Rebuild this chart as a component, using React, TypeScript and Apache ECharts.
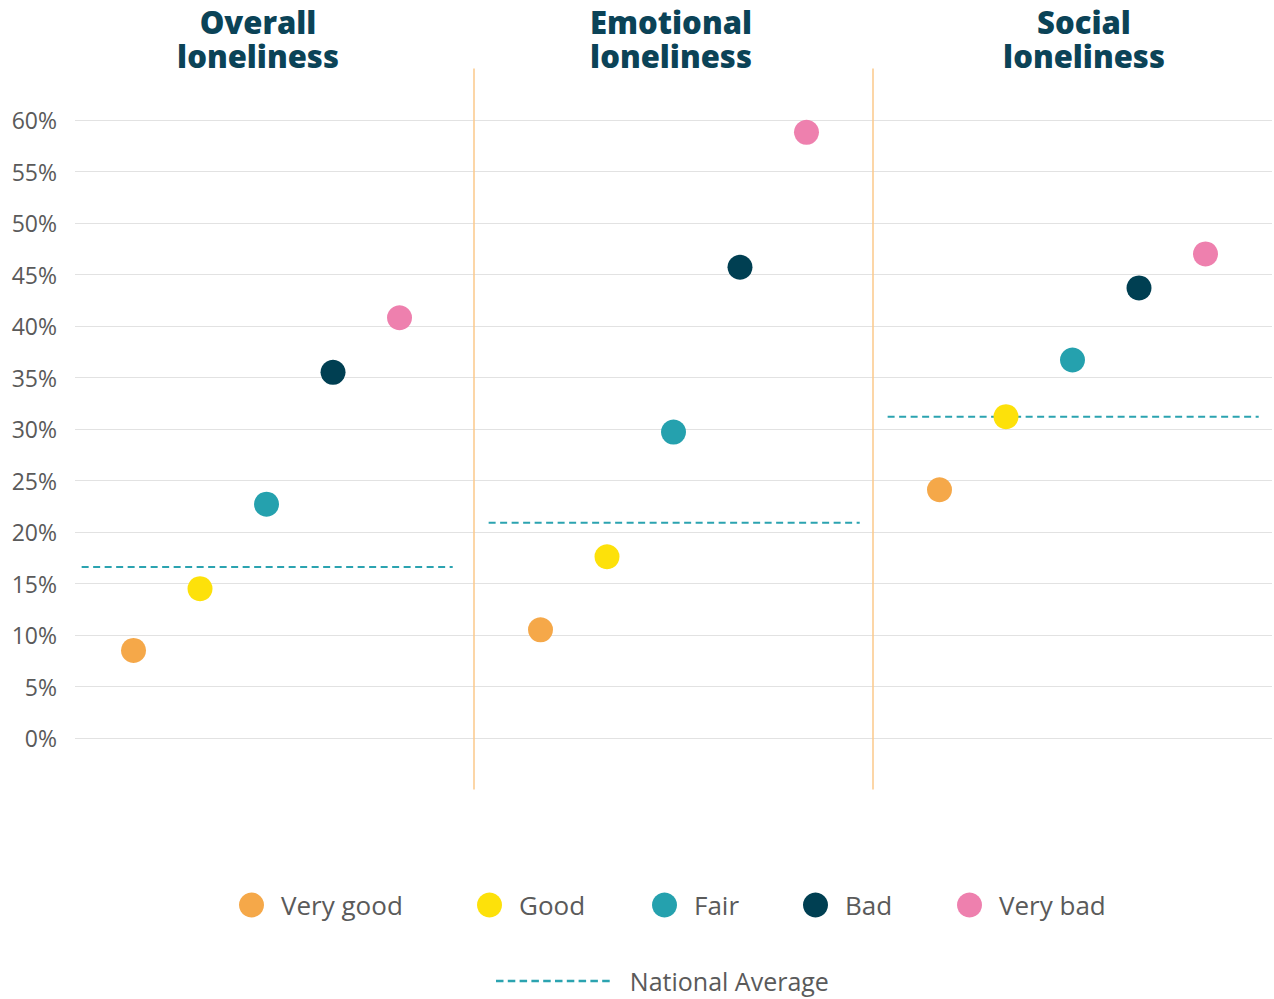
import React, { useEffect, useRef } from "react";
import * as echarts from "echarts";

// Loneliness by self-rated health, three loneliness measures
const PANELS = ["Overall\nloneliness", "Emotional\nloneliness", "Social\nloneliness"];
const RATINGS = ["Very good", "Good", "Fair", "Bad", "Very bad"];

// Share (%) per panel: overall, emotional, social
const veryGood = [8.5, 10.5, 24.1];
const good = [14.5, 17.6, 31.2];
const fair = [22.7, 29.7, 36.7];
const bad = [35.5, 45.7, 43.7];
const veryBad = [40.8, 58.8, 47.0];
const nationalAverage = [16.6, 20.9, 31.2];

const Y_MIN = 0;
const Y_MAX = 60;
const Y_STEP = 5;

const RATING_VALUES = [veryGood, good, fair, bad, veryBad];
const RATING_COLORS = ["#f5a849", "#fde10a", "#25a1ae", "#003f52", "#ee80ae"];
const AVG_NAME = "National Average";
const AVG_COLOR = "#2ba3b0";

// each panel spans 6 units on the shared x scale
const PANEL_WIDTH = 6;
const panelOrigin = [-0.12, 6, 12];
const TITLE_X = [258, 671, 1084];
const LEGEND_X = [239, 477, 652, 803, 957];

const FONT = "'Open Sans', 'Noto Sans', sans-serif";

// dashed-line legend icon: ten short dashes
const DASH = 7.5;
const DASH_PERIOD = 11.8;
const DASH_H = 2.5;
const dashIcon =
  "path://" +
  Array.from({ length: 10 }, (_, k) => `M${(k * DASH_PERIOD).toFixed(1)},0h${DASH}v${DASH_H}h-${DASH}z`).join("");

export default function App() {
  const ref = useRef<HTMLDivElement>(null);

  useEffect(() => {
    if (!ref.current) return;
    const chart = echarts.init(ref.current, null, { renderer: "svg" });

    const avgData: any[] = [];
    nationalAverage.forEach((v, p) => {
      if (p > 0) avgData.push(["-", "-"]);
      avgData.push([panelOrigin[p] + 0.22, v]);
      avgData.push([panelOrigin[p] + 5.8, v]);
    });

    const scatterSeries = RATINGS.map((name, i) => ({
      name,
      type: "scatter",
      symbol: "circle",
      symbolSize: 25,
      itemStyle: { color: RATING_COLORS[i], opacity: 1 },
      z: 3,
      data: RATING_VALUES[i].map((v, p) => [panelOrigin[p] + i + 1, v]),
    }));

    const legendText = {
      fontFamily: FONT,
      fontSize: 26,
      color: "#5a5a5a",
      lineHeight: 30,
    };

    const ratingLegends = RATINGS.map((name, i) => ({
      data: [name],
      left: LEGEND_X[i],
      top: 890,
      padding: 0,
      icon: "circle",
      itemWidth: 25,
      itemHeight: 25,
      textStyle: { ...legendText, padding: [0, 0, 0, 12] },
    }));

    chart.setOption({
      animation: false,
      backgroundColor: "#ffffff",
      title: PANELS.map((text, p) => ({
        text,
        left: TITLE_X[p],
        top: 5,
        padding: 0,
        textAlign: "center",
        textStyle: {
          fontFamily: FONT,
          fontSize: 31,
          fontWeight: 800,
          lineHeight: 34,
          color: "#0b4357",
        },
      })),
      grid: { left: 75, right: 2, top: 120, bottom: 261, containLabel: false },
      xAxis: {
        type: "value",
        min: 0,
        max: PANEL_WIDTH * PANELS.length,
        show: false,
        splitLine: { show: false },
      },
      yAxis: {
        type: "value",
        min: Y_MIN,
        max: Y_MAX,
        interval: Y_STEP,
        axisLine: { show: false },
        axisTick: { show: false },
        axisLabel: {
          formatter: "{value}%",
          fontFamily: FONT,
          fontSize: 23,
          color: "#5a5a5a",
          margin: 18,
        },
        splitLine: { lineStyle: { color: "#e2e2e2", width: 1 } },
      },
      legend: [
        ...ratingLegends,
        {
          data: [AVG_NAME],
          left: 496,
          top: 966,
          padding: 0,
          icon: dashIcon,
          itemWidth: 114,
          itemHeight: DASH_H,
          textStyle: { ...legendText, fontSize: 25, padding: [0, 0, 0, 15] },
        },
      ],
      series: [
        {
          name: AVG_NAME,
          type: "line",
          symbol: "none",
          connectNulls: false,
          z: 2,
          color: AVG_COLOR,
          lineStyle: { color: AVG_COLOR, width: 2, type: [7, 4.5] },
          data: avgData,
        },
        ...scatterSeries,
      ],
    });

    // panel dividers reaching above and below the plotting area
    const yTop = chart.convertToPixel({ yAxisIndex: 0 }, Y_MAX + 5) as number;
    const yBottom = chart.convertToPixel({ yAxisIndex: 0 }, Y_MIN - 5) as number;
    const dividers = [1, 2].map((k) => {
      const x = chart.convertToPixel({ xAxisIndex: 0 }, PANEL_WIDTH * k) as number;
      return {
        type: "line",
        shape: { x1: x, y1: yTop, x2: x, y2: yBottom },
        style: { stroke: "#fbc98a", lineWidth: 1.5 },
        z: 1,
      };
    });
    chart.setOption({ graphic: dividers });

    return () => chart.dispose();
  }, []);

  return (
    <div
      ref={ref}
      style={{ position: "absolute", left: 0, top: 0, width: 1274, height: 999 }}
    />
  );
}
